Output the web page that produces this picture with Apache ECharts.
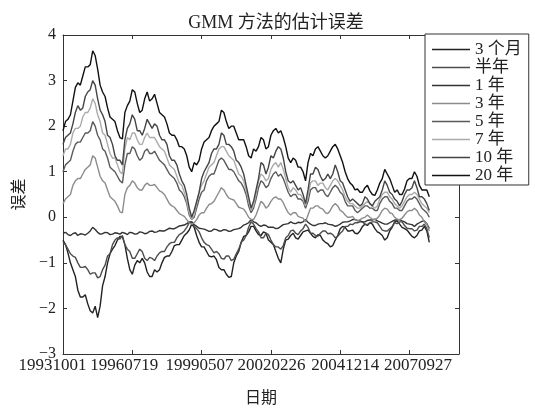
<!DOCTYPE html>
<html><head><meta charset="utf-8">
<script src="https://cdn.jsdelivr.net/npm/echarts@6/dist/echarts.min.js"></script>
<style>html,body{margin:0;padding:0;background:#fff}#c{width:535px;height:412px}</style>
</head><body><div id="c"></div>
<script>
// trading-day index of each sampled point
var dayIndex = [0,50,100,150,200,250,300,350,400,450,500,550,600,650,700,750,800,850,900,950,1000,1050,1100,1150,1200,1250,1300,1350,1400,1450,1500,1550,1600,1650,1700,1750,1800,1850,1900,1950,2000,2050,2100,2150,2200,2250,2300,2350,2400,2450,2500,2550,2600,2650,2700,2750,2800,2850,2900,2950,3000,3050,3100,3150,3200,3250,3300,3350,3400,3450,3500,3550,3600,3650,3700];
var midIndex = [25,75,125,175,225,275,325,375,425,475,525,575,625,675,725,775,825,875,925,975,1025,1075,1125,1175,1225,1275,1325,1375,1425,1475,1525,1575,1625,1675,1725,1775,1825,1875,1925,1975,2025,2075,2125,2175,2225,2275,2325,2375,2425,2475,2525,2575,2625,2675,2725,2775,2825,2875,2925,2975,3025,3075,3125,3175,3225,3275,3325,3375,3425,3475,3525,3575,3625,3675];
var dateTicks = ['19931001','19960719','19990507','20020226','20041214','20070927'];
var seriesNames = ['3 个月','半年','1 年','3 年','5 年','7 年','10 年','20 年'];
var seriesColors = ['#222222','#4d4d4d','#333333','#8c8c8c','#5a5a5a','#ababab','#444444','#111111'];

var err3m = [-0.5,-0.78,-1.15,-1.6,-1.75,-1.9,-2.1,-2.2,-1.5,-1.0,-0.7,-0.5,-0.43,-0.9,-1.25,-0.95,-0.9,-1.2,-1.3,-1.2,-1.0,-0.85,-0.75,-0.6,-0.5,-0.35,-0.15,-0.4,-0.65,-0.75,-0.87,-0.93,-1.15,-1.25,-1.3,-0.85,-0.55,-0.4,-0.2,-0.3,-0.4,-0.35,-0.55,-0.75,-1.0,-0.5,-0.4,-0.45,-0.4,-0.3,-0.35,-0.45,-0.4,-0.55,-0.65,-0.5,-0.25,-0.22,-0.3,-0.35,-0.3,-0.15,-0.12,-0.25,-0.35,-0.5,-0.3,-0.1,-0.15,-0.25,-0.35,-0.45,-0.3,-0.2,-0.55];
var err3mMid = [-0.6,-1.0,-1.3,-1.75,-1.7,-2.05,-1.95,-1.95,-1.3,-0.8,-0.62,-0.42,-0.6,-1.15,-1.05,-1.0,-1.0,-1.3,-1.15,-1.15,-0.88,-0.85,-0.62,-0.6,-0.4,-0.28,-0.22,-0.55,-0.65,-0.85,-0.85,-1.1,-1.15,-1.32,-1.0,-0.75,-0.42,-0.32,-0.2,-0.38,-0.32,-0.5,-0.6,-0.9,-0.7,-0.48,-0.35,-0.48,-0.32,-0.28,-0.42,-0.38,-0.5,-0.58,-0.62,-0.4,-0.2,-0.3,-0.28,-0.36,-0.2,-0.18,-0.15,-0.32,-0.4,-0.45,-0.22,-0.08,-0.22,-0.28,-0.42,-0.4,-0.28,-0.3];
var err6m = [-0.55,-0.7,-0.85,-1.0,-1.1,-1.15,-1.22,-1.33,-1.15,-0.85,-0.6,-0.45,-0.4,-0.7,-0.9,-0.8,-0.75,-0.95,-0.9,-0.85,-0.75,-0.65,-0.55,-0.45,-0.35,-0.22,-0.1,-0.25,-0.45,-0.6,-0.7,-0.75,-0.9,-0.85,-0.95,-0.8,-0.55,-0.4,-0.1,-0.25,-0.45,-0.35,-0.5,-0.65,-0.7,-0.45,-0.3,-0.35,-0.3,-0.15,-0.35,-0.4,-0.35,-0.3,-0.35,-0.45,-0.35,-0.2,-0.15,-0.12,-0.1,-0.15,-0.12,-0.1,-0.2,-0.3,-0.25,-0.12,-0.1,-0.18,-0.25,-0.3,-0.2,-0.15,-0.45];
var err6mMid = [-0.6,-0.8,-0.88,-1.1,-1.08,-1.25,-1.22,-1.3,-1.05,-0.8,-0.5,-0.48,-0.6,-0.75,-0.9,-0.7,-0.9,-0.88,-0.95,-0.78,-0.75,-0.58,-0.55,-0.38,-0.3,-0.12,-0.2,-0.32,-0.55,-0.62,-0.78,-0.8,-0.92,-0.85,-0.92,-0.7,-0.5,-0.22,-0.15,-0.32,-0.45,-0.38,-0.6,-0.65,-0.62,-0.4,-0.28,-0.38,-0.25,-0.22,-0.35,-0.42,-0.3,-0.36,-0.38,-0.42,-0.3,-0.2,-0.16,-0.12,-0.1,-0.16,-0.1,-0.12,-0.28,-0.3,-0.2,-0.14,-0.1,-0.24,-0.25,-0.28,-0.2,-0.25];
var err1y = [-0.35,-0.38,-0.36,-0.4,-0.37,-0.35,-0.22,-0.33,-0.36,-0.34,-0.37,-0.35,-0.33,-0.38,-0.34,-0.36,-0.33,-0.35,-0.3,-0.32,-0.3,-0.27,-0.25,-0.22,-0.18,-0.14,-0.1,-0.2,-0.25,-0.28,-0.3,-0.27,-0.3,-0.28,-0.3,-0.26,-0.22,-0.15,-0.05,-0.12,-0.2,-0.18,-0.22,-0.25,-0.2,-0.15,-0.1,-0.14,-0.12,-0.05,-0.15,-0.18,-0.14,-0.12,-0.16,-0.2,-0.15,-0.1,-0.08,-0.05,-0.08,-0.1,-0.06,-0.04,-0.1,-0.15,-0.12,-0.06,-0.05,-0.1,-0.15,-0.2,-0.12,-0.08,-0.25];
var err1yMid = [-0.33,-0.4,-0.34,-0.36,-0.39,-0.3,-0.27,-0.37,-0.33,-0.38,-0.34,-0.37,-0.35,-0.33,-0.37,-0.32,-0.36,-0.31,-0.33,-0.29,-0.3,-0.24,-0.25,-0.19,-0.17,-0.1,-0.16,-0.24,-0.26,-0.31,-0.26,-0.3,-0.27,-0.31,-0.27,-0.25,-0.17,-0.12,-0.1,-0.17,-0.17,-0.22,-0.22,-0.24,-0.16,-0.14,-0.13,-0.11,-0.1,-0.11,-0.18,-0.15,-0.14,-0.15,-0.17,-0.18,-0.11,-0.1,-0.05,-0.07,-0.1,-0.07,-0.06,-0.08,-0.13,-0.15,-0.09,-0.06,-0.08,-0.14,-0.16,-0.15,-0.09,-0.14];
var err3y = [0.3,0.45,0.7,0.85,0.95,1.1,1.35,1.1,0.8,0.6,0.4,0.25,0.1,0.65,0.8,0.65,0.6,0.75,0.7,0.65,0.55,0.4,0.25,0.15,0.05,-0.05,-0.15,-0.05,0.1,0.2,0.3,0.45,0.65,0.5,0.4,0.3,0.2,0.1,-0.05,0.05,0.35,0.2,0.35,0.45,0.4,0.2,0.05,0.1,0.0,-0.1,0.2,0.25,0.2,0.1,0.15,0.3,0.15,0.05,0.0,-0.05,-0.05,0.0,0.0,-0.05,0.05,0.2,0.1,0.0,-0.05,0.05,0.15,0.2,0.05,-0.1,-0.3];
var err3yMid = [0.4,0.5,0.8,0.85,1.05,1.15,1.3,0.9,0.75,0.45,0.35,0.12,0.5,0.7,0.75,0.6,0.7,0.7,0.72,0.58,0.5,0.3,0.22,0.08,0.02,-0.12,-0.12,0.05,0.1,0.28,0.35,0.55,0.6,0.42,0.38,0.22,0.18,0.0,-0.05,0.2,0.3,0.25,0.42,0.4,0.32,0.1,0.1,0.02,-0.02,0.05,0.2,0.25,0.18,0.08,0.25,0.25,0.12,0.0,0.02,-0.08,-0.02,0.05,-0.04,-0.02,0.15,0.18,0.08,-0.04,-0.02,0.12,0.15,0.15,0.0,-0.15];
var err5y = [1.0,1.2,1.45,1.65,1.75,1.85,2.1,1.8,1.5,1.3,1.05,0.9,0.75,1.4,1.55,1.35,1.3,1.5,1.4,1.35,1.2,1.05,0.9,0.75,0.55,0.3,-0.05,0.2,0.55,0.8,0.95,1.1,1.3,1.15,1.05,0.9,0.75,0.5,0.1,0.4,0.8,0.65,0.85,1.0,0.95,0.7,0.45,0.5,0.4,0.2,0.6,0.65,0.6,0.5,0.55,0.7,0.55,0.35,0.25,0.15,0.15,0.25,0.2,0.15,0.3,0.45,0.35,0.2,0.15,0.25,0.4,0.45,0.3,0.15,0.0];
var err5yMid = [1.15,1.25,1.6,1.65,1.85,1.9,2.0,1.7,1.45,1.1,1.0,0.8,1.15,1.4,1.5,1.25,1.45,1.4,1.45,1.25,1.15,0.95,0.85,0.6,0.45,0.05,0.0,0.4,0.6,0.9,0.95,1.25,1.25,1.05,1.0,0.8,0.65,0.25,0.2,0.65,0.75,0.7,0.95,0.9,0.85,0.55,0.5,0.4,0.35,0.35,0.65,0.55,0.6,0.45,0.65,0.65,0.5,0.25,0.25,0.1,0.2,0.25,0.2,0.15,0.4,0.45,0.3,0.2,0.15,0.35,0.4,0.4,0.2,0.1];
var err7y = [1.35,1.5,1.85,1.95,2.2,2.3,2.6,2.25,1.85,1.6,1.3,1.15,0.95,1.75,1.85,1.7,1.6,1.85,1.75,1.65,1.5,1.3,1.1,0.9,0.7,0.35,-0.05,0.3,0.7,0.95,1.15,1.35,1.55,1.45,1.3,1.1,0.9,0.6,0.15,0.5,0.95,0.8,1.05,1.2,1.2,0.85,0.55,0.6,0.5,0.25,0.75,0.8,0.75,0.65,0.7,0.85,0.7,0.45,0.3,0.25,0.2,0.3,0.3,0.2,0.4,0.55,0.45,0.3,0.2,0.35,0.5,0.55,0.4,0.25,0.1];
var err7yMid = [1.5,1.6,1.95,2.0,2.3,2.4,2.5,2.1,1.8,1.4,1.3,1.0,1.5,1.7,1.85,1.6,1.75,1.75,1.75,1.55,1.45,1.15,1.05,0.75,0.55,0.1,0.05,0.55,0.8,1.1,1.2,1.5,1.55,1.35,1.25,0.95,0.8,0.35,0.25,0.8,0.9,0.85,1.15,1.1,1.05,0.65,0.65,0.5,0.4,0.45,0.8,0.7,0.75,0.6,0.8,0.8,0.6,0.35,0.3,0.2,0.25,0.35,0.25,0.25,0.5,0.55,0.4,0.25,0.25,0.45,0.5,0.5,0.3,0.2];
var err10y = [1.6,1.8,2.05,2.45,2.4,2.75,3.0,2.6,2.25,1.8,1.6,1.25,1.15,1.95,2.25,1.9,1.8,2.15,1.95,2.0,1.7,1.6,1.25,1.15,0.8,0.5,0.0,0.35,0.85,1.1,1.4,1.5,1.85,1.6,1.55,1.25,1.1,0.7,0.2,0.6,1.2,0.95,1.35,1.45,1.5,1.0,0.75,0.7,0.65,0.3,0.95,1.1,0.9,0.85,0.85,1.15,0.8,0.6,0.35,0.35,0.25,0.45,0.3,0.35,0.45,0.8,0.55,0.4,0.25,0.5,0.6,0.8,0.45,0.4,0.15];
var err10yMid = [1.75,1.85,2.3,2.35,2.65,2.8,2.9,2.35,2.1,1.75,1.35,1.25,1.7,2.05,2.15,1.9,1.95,2.05,2.05,1.8,1.7,1.35,1.25,0.95,0.7,0.2,0.15,0.55,1.0,1.2,1.5,1.6,1.8,1.6,1.45,1.2,0.95,0.45,0.35,0.85,1.15,1.1,1.3,1.55,1.3,0.8,0.8,0.6,0.5,0.6,0.95,1.05,0.8,0.95,0.95,1.0,0.75,0.45,0.4,0.3,0.3,0.4,0.25,0.4,0.6,0.7,0.5,0.35,0.35,0.6,0.65,0.65,0.45,0.3];
var err20y = [1.9,2.15,2.55,2.95,3.1,3.3,3.65,3.25,2.75,2.4,2.15,1.9,1.72,2.45,2.8,2.5,2.35,2.75,2.6,2.5,2.25,2.05,1.8,1.7,1.55,1.35,1.0,1.15,1.5,1.7,1.9,2.05,2.35,2.1,2.0,1.85,1.7,1.55,1.3,1.45,1.75,1.5,1.8,1.95,1.9,1.55,1.2,1.25,1.1,0.8,1.4,1.5,1.45,1.3,1.45,1.6,1.35,1.0,0.75,0.6,0.55,0.65,0.58,0.48,0.75,1.05,0.85,0.55,0.5,0.62,0.85,1.0,0.7,0.6,0.45];
var err20yMid = [2.1,2.25,2.85,2.9,3.3,3.35,3.55,2.9,2.65,2.2,2.1,1.75,2.3,2.55,2.75,2.3,2.6,2.55,2.7,2.3,2.2,1.85,1.8,1.55,1.5,1.1,1.2,1.25,1.65,1.75,2.0,2.1,2.3,1.95,2.0,1.7,1.7,1.35,1.5,1.55,1.7,1.55,1.9,1.85,1.75,1.3,1.3,1.1,1.0,1.2,1.35,1.55,1.35,1.35,1.55,1.5,1.2,0.85,0.7,0.62,0.55,0.7,0.5,0.6,0.85,0.95,0.7,0.6,0.5,0.8,0.85,0.9,0.6,0.6];

var mainVals = [err3m, err6m, err1y, err3y, err5y, err7y, err10y, err20y];
var midVals = [err3mMid, err6mMid, err1yMid, err3yMid, err5yMid, err7yMid, err10yMid, err20yMid];
var FONT = "'Liberation Serif', 'Noto Sans CJK SC', serif";

function buildData(main, mid) {
  var out = [];
  for (var j = 0; j < main.length; j++) {
    out.push([dayIndex[j], main[j]]);
    if (j < mid.length) out.push([midIndex[j], mid[j]]);
  }
  return out;
}

var chart = echarts.init(document.getElementById('c'), null, {renderer: 'canvas'});
var shiftStyles = {
  s0: {padding: [0, 21, 0, 0]}, s1: {padding: [0, 16, 0, 0]}, s2: {padding: [0, 4, 0, 0]},
  s3: {padding: [0, 0, 0, 1]}, s4: {padding: [0, 0, 0, 10]}, s5: {padding: [0, 0, 0, 17]}
};
var axisLineStyle = {color: '#333', width: 1};
var option = {
  animation: false,
  backgroundColor: '#fff',
  title: {
    text: 'GMM 方法的估计误差', left: 271, top: 9, textAlign: 'center',
    textStyle: {fontFamily: FONT, fontSize: 18, fontWeight: 'normal', color: '#222'}
  },
  grid: {left: 63, right: 76, top: 35, bottom: 58},
  legend: {
    orient: 'vertical', left: 425, top: 34,
    icon: 'rect', itemWidth: 38, itemHeight: 1.3, itemGap: 1, padding: [7, 7, 1, 7],
    backgroundColor: '#fff', borderColor: '#333', borderWidth: 1, borderRadius: 0,
    textStyle: {fontFamily: FONT, fontSize: 17, color: '#222'},
    data: seriesNames
  },
  xAxis: [{
    type: 'value', min: 0, max: 4000, interval: 700, position: 'bottom',
    name: '日期', nameLocation: 'middle', nameGap: 37,
    nameTextStyle: {fontFamily: FONT, fontSize: 16, color: '#222'},
    axisLine: {show: true, onZero: false, lineStyle: axisLineStyle},
    axisTick: {show: true, inside: true, length: 4, lineStyle: axisLineStyle},
    splitLine: {show: false},
    axisLabel: {
      fontFamily: FONT, fontSize: 17, color: '#222', margin: 3, interval: 0,
      hideOverlap: false, showMaxLabel: false,
      formatter: function (v) {
        var k = Math.round(v / 700);
        if (v % 700 !== 0 || k >= dateTicks.length) return '';
        return '{s' + k + '|' + dateTicks[k] + '}';
      },
      rich: shiftStyles
    }
  }, {
    type: 'value', min: 0, max: 4000, interval: 700, position: 'top',
    axisLine: {show: true, onZero: false, lineStyle: axisLineStyle},
    axisTick: {show: true, inside: true, length: 4, lineStyle: axisLineStyle},
    axisLabel: {show: false}, splitLine: {show: false}
  }],
  yAxis: [{
    type: 'value', min: -3, max: 4, interval: 1, position: 'left',
    name: '误差', nameLocation: 'middle', nameGap: 34, nameRotate: 90,
    nameTextStyle: {fontFamily: FONT, fontSize: 16, color: '#222'},
    axisLine: {show: true, onZero: false, lineStyle: axisLineStyle},
    axisTick: {show: true, inside: true, length: 4, lineStyle: axisLineStyle},
    splitLine: {show: false},
    axisLabel: {
      fontFamily: FONT, fontSize: 16, color: '#222', margin: 7,
      formatter: function (v) { return v < 0 ? '\u2212' + (-v) : String(v); }
    }
  }, {
    type: 'value', min: -3, max: 4, interval: 1, position: 'right',
    axisLine: {show: true, onZero: false, lineStyle: axisLineStyle},
    axisTick: {show: true, inside: true, length: 4, lineStyle: axisLineStyle},
    axisLabel: {show: false}, splitLine: {show: false}
  }],
  series: seriesNames.map(function (name, i) {
    return {
      name: name, type: 'line', symbol: 'none', xAxisIndex: 0, yAxisIndex: 0,
      color: seriesColors[i],
      lineStyle: {width: 1.4, color: seriesColors[i]},
      data: buildData(mainVals[i], midVals[i])
    };
  })
};
chart.setOption(option);
</script></body></html>
